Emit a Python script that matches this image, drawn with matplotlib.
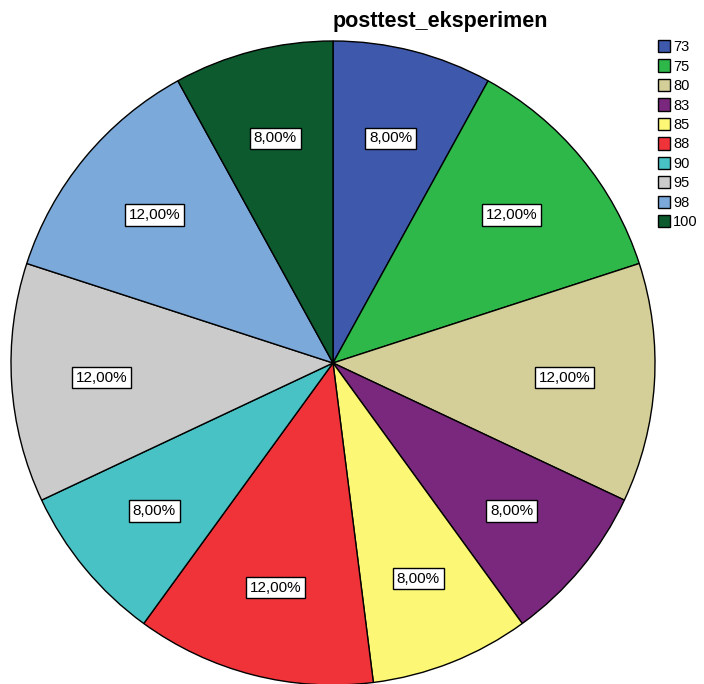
import matplotlib.pyplot as plt

# データ
categories = ["73", "75", "80", "83", "85", "88", "90", "95", "98", "100"]
percents = [8, 12, 12, 8, 8, 12, 8, 12, 12, 8]
colors = ["#3E58AC", "#2FB84A", "#D4CE98", "#7A287E", "#FCF775",
          "#EF3339", "#48C2C4", "#CBCBCB", "#7BA9DA", "#0C5A2D"]
title = "posttest_eksperimen"

plt.rcParams["font.family"] = ["Liberation Sans", "DejaVu Sans"]

fig = plt.figure(figsize=(7.04, 6.84), dpi=100)
# 円の位置 (中心 333,363 半径 322 px)
cx, cy, r = 333, 363, 322
ax = fig.add_axes([(cx - r) / 704, (684 - cy - r) / 684, 2 * r / 704, 2 * r / 684])

wedges, texts = ax.pie(percents, colors=colors, startangle=90, counterclock=False,
                       radius=1, labels=[f"{p:.2f}%".replace(".", ",") for p in percents],
                       labeldistance=0.72,
                       wedgeprops=dict(edgecolor="black", linewidth=1.0))
for t in texts:
    t.set_ha("center")
    t.set_va("center")
    t.set_fontsize(11)
    t.set_bbox(dict(facecolor="white", edgecolor="black", linewidth=1.0,
                    boxstyle="square,pad=0.25"))

ax.set_xlim(-1, 1)
ax.set_ylim(-1, 1)
ax.set_aspect("equal")
ax.axis("off")

fig.text(440 / 704, 1 - 21 / 684, title, ha="center", va="center",
         fontsize=15.5, fontweight="bold")

fig.legend(wedges, categories, loc="upper left", bbox_to_anchor=(658 / 704, 1 - 40 / 684),
           frameon=False, fontsize=10.5, handlelength=0.8, handleheight=0.9,
           handletextpad=0.25, labelspacing=0.37, borderpad=0, borderaxespad=0)

fig.savefig("out.png", dpi=100)
